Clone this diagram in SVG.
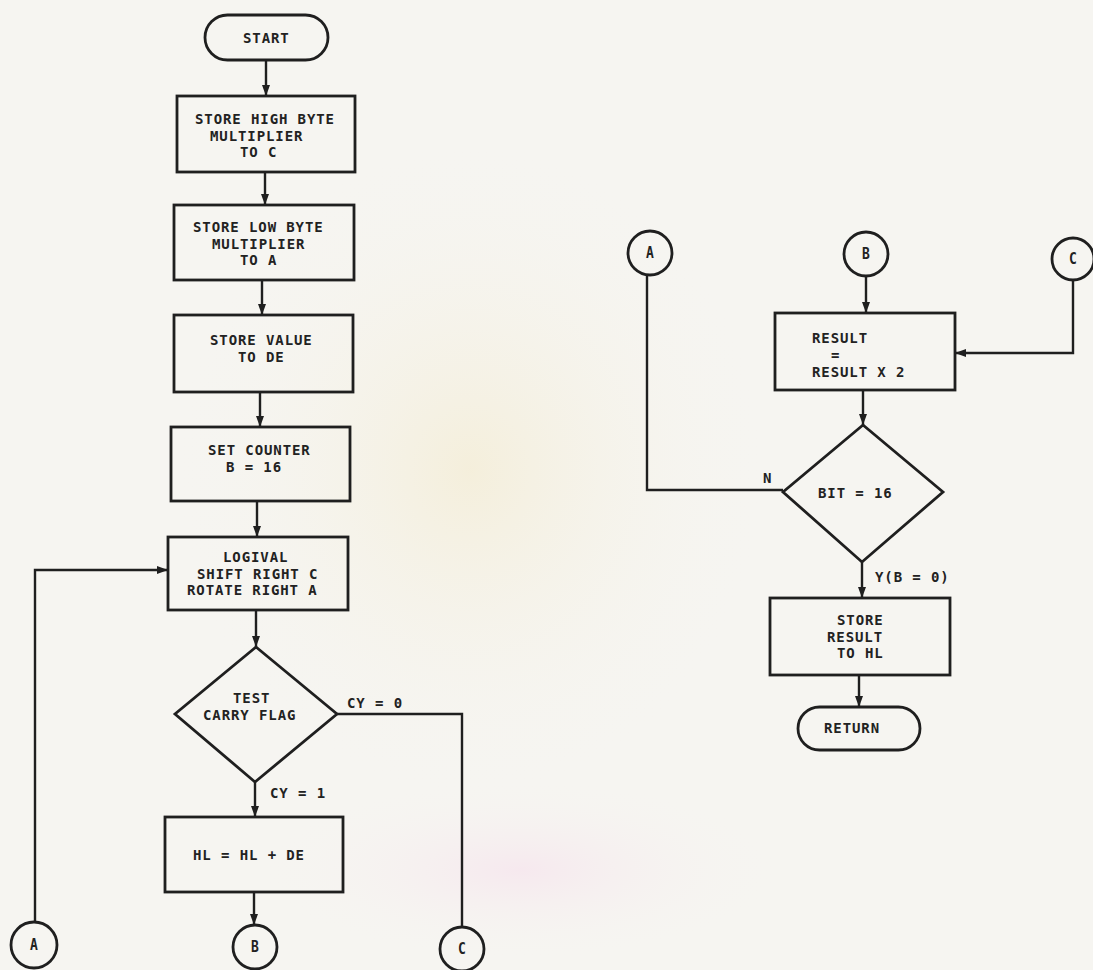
<svg xmlns="http://www.w3.org/2000/svg" width="1093" height="970" viewBox="0 0 1093 970">
  <defs>
    <style>
      .shape { fill: none; stroke: #1f1f1f; stroke-width: 2.8; stroke-linejoin: miter; }
      .wire { fill: none; stroke: #1f1f1f; stroke-width: 2.4; }
      .t { font-family: "DejaVu Sans Mono", "Liberation Mono", monospace; font-weight: bold; font-size: 14px; letter-spacing: 0.9px; fill: #222; }
      .c { font-family: "DejaVu Sans Mono", "Liberation Mono", monospace; font-weight: bold; font-size: 13px; fill: #222; text-anchor: middle; }
    </style>
    <marker id="arrow" markerUnits="userSpaceOnUse" markerWidth="12" markerHeight="9" refX="11" refY="4.5" orient="auto">
      <path d="M0,0.5 L11,4.5 L0,8.5 z" fill="#1f1f1f"/>
    </marker>
    <radialGradient id="glow" cx="0.5" cy="0.5" r="0.5">
      <stop offset="0" stop-color="#f4edd6" stop-opacity="0.8"/>
      <stop offset="1" stop-color="#f6f5f1" stop-opacity="0"/>
    </radialGradient>
    <radialGradient id="blush" cx="0.5" cy="0.5" r="0.5">
      <stop offset="0" stop-color="#f6e7ee" stop-opacity="0.9"/>
      <stop offset="1" stop-color="#f6f5f1" stop-opacity="0"/>
    </radialGradient>
  </defs>

  <!-- paper -->
  <rect x="0" y="0" width="1093" height="970" fill="#f6f5f1"/>
  <ellipse cx="470" cy="470" rx="300" ry="330" fill="url(#glow)"/>
  <ellipse cx="520" cy="870" rx="260" ry="90" fill="url(#blush)"/>

  <!-- connectors -->
  <g id="connectors">
    <path class="wire" d="M266,60 V96" marker-end="url(#arrow)"/>
    <path class="wire" d="M265,172 V205" marker-end="url(#arrow)"/>
    <path class="wire" d="M262,280 V315" marker-end="url(#arrow)"/>
    <path class="wire" d="M260,392 V427" marker-end="url(#arrow)"/>
    <path class="wire" d="M257,501 V537" marker-end="url(#arrow)"/>
    <path class="wire" d="M256,610 V647" marker-end="url(#arrow)"/>
    <path class="wire" d="M35,922 V570 H168" marker-end="url(#arrow)"/>
    <path class="wire" d="M255,782 V817" marker-end="url(#arrow)"/>
    <path class="wire" d="M254,892 V925" marker-end="url(#arrow)"/>
    <path class="wire" d="M337,714 H462 V927"/>
    <path class="wire" d="M866,276 V313" marker-end="url(#arrow)"/>
    <path class="wire" d="M1073,281 V353 H955" marker-end="url(#arrow)"/>
    <path class="wire" d="M863,390 V425" marker-end="url(#arrow)"/>
    <path class="wire" d="M783,490 H647 V275"/>
    <path class="wire" d="M862,562 V598" marker-end="url(#arrow)"/>
    <path class="wire" d="M859,675 V707" marker-end="url(#arrow)"/>
    <text class="t" x="347" y="708">CY = 0</text>
    <text class="t" x="270" y="798">CY = 1</text>
    <text class="t" x="763" y="483">N</text>
    <text class="t" x="875" y="582">Y(B = 0)</text>
  </g>

  <!-- left column -->
  <g id="start">
    <rect class="shape" x="205" y="15" width="123" height="45" rx="22.5"/>
    <text class="t" x="243" y="43">START</text>
  </g>

  <g id="store-high">
    <rect class="shape" x="177" y="96" width="178" height="76"/>
    <text class="t">
      <tspan x="195" y="124">STORE HIGH BYTE</tspan>
      <tspan x="210" y="140.5">MULTIPLIER</tspan>
      <tspan x="240" y="157">TO C</tspan>
    </text>
  </g>

  <g id="store-low">
    <rect class="shape" x="174" y="205" width="180" height="75"/>
    <text class="t">
      <tspan x="193" y="232">STORE LOW BYTE</tspan>
      <tspan x="212" y="248.5">MULTIPLIER</tspan>
      <tspan x="240" y="265">TO A</tspan>
    </text>
  </g>

  <g id="store-value">
    <rect class="shape" x="174" y="315" width="179" height="77"/>
    <text class="t">
      <tspan x="210" y="345">STORE VALUE</tspan>
      <tspan x="238" y="361.5">TO DE</tspan>
    </text>
  </g>

  <g id="set-counter">
    <rect class="shape" x="171" y="427" width="179" height="74"/>
    <text class="t">
      <tspan x="208" y="455">SET COUNTER</tspan>
      <tspan x="226" y="471.5">B = 16</tspan>
    </text>
  </g>

  <g id="shift-rotate">
    <rect class="shape" x="168" y="537" width="180" height="73"/>
    <text class="t">
      <tspan x="223" y="562">LOGIVAL</tspan>
      <tspan x="197" y="578.5">SHIFT RIGHT C</tspan>
      <tspan x="187" y="595">ROTATE RIGHT A</tspan>
    </text>
  </g>

  <g id="test-carry">
    <polygon class="shape" points="256,647 337,714 255,782 175,714"/>
    <text class="t">
      <tspan x="233" y="703">TEST</tspan>
      <tspan x="203" y="720">CARRY FLAG</tspan>
    </text>
  </g>

  <g id="add-de">
    <rect class="shape" x="165" y="817" width="178" height="75"/>
    <text class="t" x="193" y="860">HL = HL + DE</text>
  </g>

  <g id="conn-a-out">
    <circle class="shape" cx="34" cy="945" r="23"/>
    <text class="c" transform="translate(34,950) scale(1,1.2)">A</text>
  </g>
  <g id="conn-b-out">
    <circle class="shape" cx="255" cy="947" r="22"/>
    <text class="c" transform="translate(255,952) scale(1,1.2)">B</text>
  </g>
  <g id="conn-c-out">
    <circle class="shape" cx="462" cy="949" r="22"/>
    <text class="c" transform="translate(462,954) scale(1,1.2)">C</text>
  </g>

  <!-- right column -->
  <g id="conn-a-in">
    <circle class="shape" cx="650" cy="253" r="22"/>
    <text class="c" transform="translate(650,258) scale(1,1.2)">A</text>
  </g>
  <g id="conn-b-in">
    <circle class="shape" cx="866" cy="254" r="22"/>
    <text class="c" transform="translate(866,259) scale(1,1.2)">B</text>
  </g>
  <g id="conn-c-in">
    <circle class="shape" cx="1073" cy="259" r="21"/>
    <text class="c" transform="translate(1073,264) scale(1,1.2)">C</text>
  </g>

  <g id="double-result">
    <rect class="shape" x="775" y="313" width="180" height="77"/>
    <text class="t">
      <tspan x="812" y="343">RESULT</tspan>
      <tspan x="831" y="360">=</tspan>
      <tspan x="812" y="377">RESULT X 2</tspan>
    </text>
  </g>

  <g id="bit-test">
    <polygon class="shape" points="863,425 943,492 862,562 783,492"/>
    <text class="t" x="818" y="498">BIT = 16</text>
  </g>

  <g id="store-result">
    <rect class="shape" x="770" y="598" width="180" height="77"/>
    <text class="t">
      <tspan x="837" y="625">STORE</tspan>
      <tspan x="827" y="641.5">RESULT</tspan>
      <tspan x="837" y="658">TO HL</tspan>
    </text>
  </g>

  <g id="return">
    <rect class="shape" x="798" y="707" width="122" height="43" rx="21.5"/>
    <text class="t" x="824" y="733">RETURN</text>
  </g>
</svg>
